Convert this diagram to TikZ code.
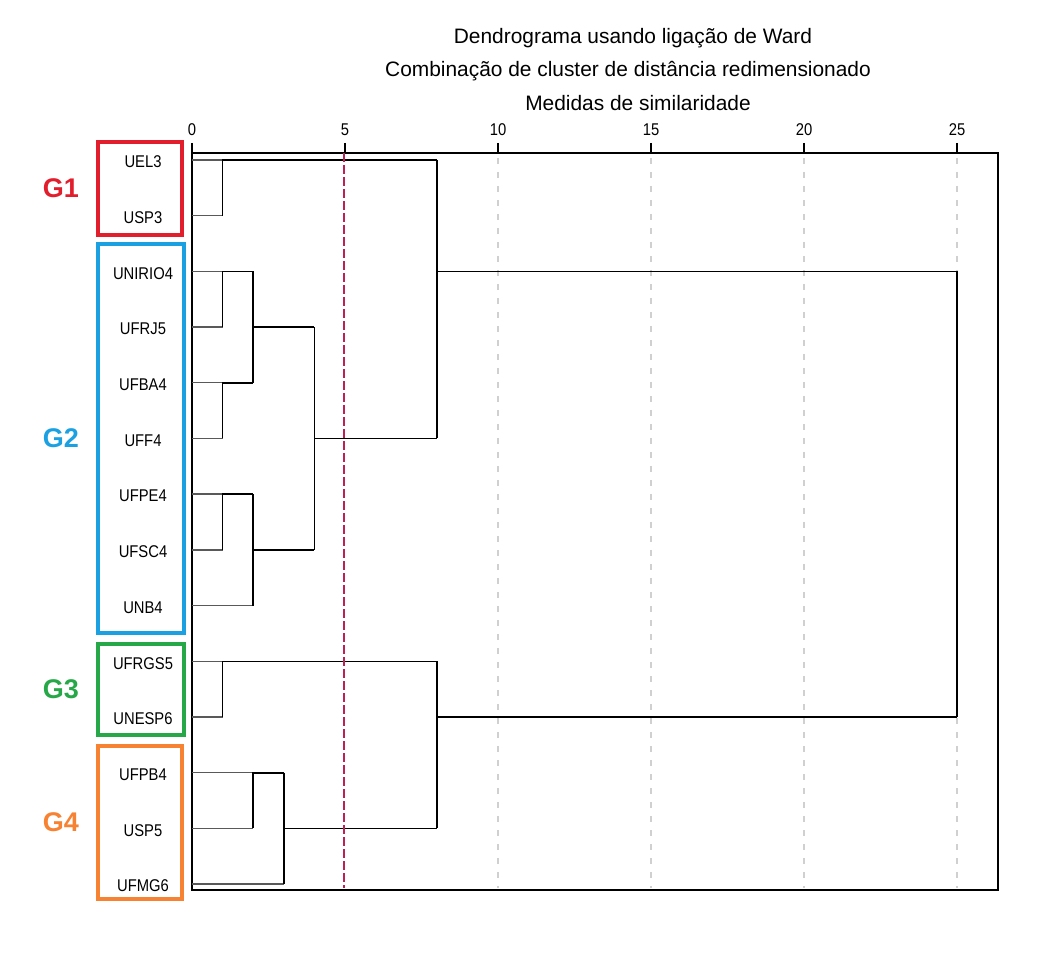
\documentclass[tikz,border=0pt]{standalone}
\usepackage{fontspec}
\setmainfont{Liberation Sans}
\newfontfamily\narrowfont[FakeStretch=0.87]{Liberation Sans}
\usepackage{tikz}
\usetikzlibrary{positioning}
\usepackage{xcolor}
\definecolor{gred}{RGB}{226,30,45}
\definecolor{gblue}{RGB}{27,161,226}
\definecolor{ggreen}{RGB}{38,168,72}
\definecolor{gorange}{RGB}{246,130,50}
\definecolor{cutred}{RGB}{190,32,85}
\definecolor{gridgray}{RGB}{208,208,208}

\begin{document}
\begin{tikzpicture}[x=1pt, y=-1pt,
    dgtitle/.style={font=\fontsize{20.9}{24}\selectfont},
    tickl/.style={font=\narrowfont\fontsize{17}{20}\selectfont, inner sep=0pt},
    leaf/.style={font=\narrowfont\fontsize{17}{20}\selectfont},
    grpbox/.style={draw=#1, line width=4pt, inner sep=0pt},
    grplabel/.style={font=\fontsize{27}{32}\selectfont\bfseries, text=#1, inner sep=0pt, left=17pt of b#1},
    link/.style={line width=1.6pt},
    stub/.style={line width=1.4pt, black!65},
    gridline/.style={gridgray, line width=1.3pt, dash pattern=on 6pt off 8pt},
    cutline/.style={cutred, line width=1.6pt, dash pattern=on 9pt off 3pt}]

    \useasboundingbox (0,0) rectangle (1045,957);

    \node[dgtitle] (t1) at (633,38) {Dendrograma usando ligação de Ward};
    \node[dgtitle] (t2) at (628,71) {Combinação de cluster de distância redimensionado};
    \node[dgtitle] (t3) at (638,103) {Medidas de similaridade};

    \foreach \v in {10,15,20,25}
        \draw[gridline] (192+30.6*\v,158) -- (192+30.6*\v,888);

    \draw[line width=1.5pt] (192,153) rectangle (998,890);
    \draw[line width=2pt] (192,153) -- (998,153);
    \foreach \v in {0,5,...,25} {
        \draw[line width=1.5pt] (192+30.6*\v,143) -- (192+30.6*\v,153);
        \node[tickl] (x\v) at (192+30.6*\v,130) {\v};
    }

    \foreach \d in {1,2,3,4,8,25}
        \coordinate (c\d) at (192+30.6*\d,0);

    \foreach \name [count=\i from 0] in {UEL3,USP3,UNIRIO4,UFRJ5,UFBA4,UFF4,UFPE4,UFSC4,UNB4,UFRGS5,UNESP6,UFPB4,USP5,UFMG6} {
        \coordinate (p\i) at (192,160+55.7*\i);
        \node[leaf] (n\i) at (143,162+55.7*\i) {\name};
    }

    \foreach \i/\e in {0/c1,1/c1,2/c1,3/c1,4/c1,5/c1,6/c1,7/c1,8/c2,9/c1,10/c1,11/c2,12/c2,13/c3}
        \draw[stub] (p\i) -- (p\i -| \e);

    \draw[link] (p1 -| c1) |- (p0 -| c8);
    \draw[link] (p3 -| c1) |- (p2 -| c2);
    \draw[link] (p5 -| c1) |- (p4 -| c2);
    \draw[link] (p2 -| c2) -- (p4 -| c2) (p3 -| c2) -- (p3 -| c4);
    \draw[link] (p7 -| c1) |- (p6 -| c2);
    \draw[link] (p6 -| c2) -- (p8 -| c2) (p7 -| c2) -- (p7 -| c4);
    \draw[link] (p3 -| c4) -- (p7 -| c4) (p5 -| c4) -- (p5 -| c8);
    \draw[link] (p0 -| c8) -- (p5 -| c8) (p2 -| c8) -- (p2 -| c25);
    \draw[link] (p10 -| c1) |- (p9 -| c8);
    \draw[link] (p12 -| c2) |- (p11 -| c3);
    \draw[link] (p11 -| c3) -- (p13 -| c3) (p12 -| c3) -- (p12 -| c8);
    \draw[link] (p9 -| c8) -- (p12 -| c8) (p10 -| c8) -- (p10 -| c25);
    \draw[link] (p2 -| c25) -- (p10 -| c25);

    \draw[cutline] (344,153) -- (344,888);

    \node[grpbox=gred, minimum width=84pt, minimum height=93pt] (bgred) at (140,188.5) {};
    \node[grpbox=gblue, minimum width=86pt, minimum height=389pt] (bgblue) at (141,438.5) {};
    \node[grpbox=ggreen, minimum width=86pt, minimum height=91pt] (bggreen) at (141,689.5) {};
    \node[grpbox=gorange, minimum width=84pt, minimum height=153pt] (bgorange) at (140,822.5) {};

    \node[grplabel=gred] (g1) {G1};
    \node[grplabel=gblue] (g2) {G2};
    \node[grplabel=ggreen] (g3) {G3};
    \node[grplabel=gorange] (g4) {G4};

\end{tikzpicture}
\end{document}
